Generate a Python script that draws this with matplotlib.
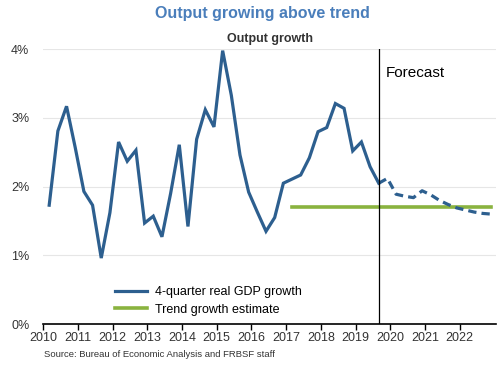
import numpy as np
import matplotlib
matplotlib.use("Agg")
import matplotlib.pyplot as plt

plt.rcParams['font.family'] = ['Liberation Sans', 'DejaVu Sans']

# Quarterly 4-quarter real GDP growth, 2010Q1 - 2019Q3 (actual)
actual_growth = [1.73, 2.81, 3.17, 2.57, 1.93, 1.73, 0.96, 1.62, 2.65, 2.37,
                 2.53, 1.47, 1.57, 1.27, 1.90, 2.61, 1.42, 2.69, 3.12, 2.87,
                 3.98, 3.33, 2.46, 1.92, 1.63, 1.35, 1.55, 2.05, 2.11, 2.17,
                 2.42, 2.80, 2.86, 3.21, 3.14, 2.52, 2.65, 2.29, 2.05]
# Forecast, 2019Q3 - 2022Q4 (starts at the last actual quarter)
forecast_growth = [2.05, 2.12, 1.89, 1.86, 1.84, 1.94, 1.88, 1.80, 1.74,
                   1.69, 1.66, 1.63, 1.61, 1.60]
trend_growth = 1.7
trend_start = 2017.17

first_year = 2010
quarter_offset = 0.17  # where each quarter sits within its year on the chart
year_ticks = list(range(2010, 2023))
y_ticks = [0, 1, 2, 3, 4]

blue = '#2d5f8f'
green = '#8ab33f'

actual_x = first_year + quarter_offset + 0.25 * np.arange(len(actual_growth))
forecast_x = actual_x[-1] + 0.25 * np.arange(len(forecast_growth))

fig = plt.figure(figsize=(5, 3.65), dpi=100)
ax = fig.add_axes([0.0866, 0.1123, 0.9054, 0.7527])

ax.plot(actual_x, actual_growth, color=blue, lw=2.3, solid_joinstyle='miter',
        label='4-quarter real GDP growth', zorder=3)
ax.plot(forecast_x, forecast_growth, color=blue, lw=2.3, linestyle=(0, (2.6, 1.6)),
        zorder=3)
ax.plot([trend_start, forecast_x[-1]], [trend_growth, trend_growth], color=green,
        lw=2.6, label='Trend growth estimate', zorder=2)

ax.axvline(actual_x[-1], color='black', lw=0.9, zorder=4)
ax.text(actual_x[-1] + 0.2, 3.65, 'Forecast', fontsize=11, va='center', ha='left')

ax.set_xlim(2010, 2023.05)
ax.set_ylim(0, 4)
ax.set_xticks(year_ticks)
ax.set_xticklabels([str(y) for y in year_ticks], fontsize=9, color='#333333')
ax.set_yticks(y_ticks)
ax.set_yticklabels([f'{v}%' for v in y_ticks], fontsize=9, color='#333333')
ax.tick_params(axis='y', length=0, pad=10)
ax.tick_params(axis='x', length=4, width=1, color='black', pad=2)
ax.grid(axis='y', color='#e6e6e6', lw=0.8)
ax.set_axisbelow(True)
for side in ['left', 'right', 'top']:
    ax.spines[side].set_visible(False)
ax.spines['bottom'].set_linewidth(1.2)

ax.set_title('Output growth', fontsize=9, fontweight='bold', color='#333333', pad=5)
fig.text(0.525, 0.962, 'Output growing above trend', fontsize=11.5, fontweight='bold',
         color='#4a7ebb', ha='center', va='center')
fig.text(0.087, 0.03, 'Source: Bureau of Economic Analysis and FRBSF staff',
         fontsize=6.8, color='#333333', ha='left', va='center')

ax.legend(loc='lower left', bbox_to_anchor=(0.158, 0.03), frameon=False,
          fontsize=9, handlelength=2.6, handletextpad=0.6, borderpad=0,
          labelspacing=0.45, borderaxespad=0)

fig.savefig('out.png', dpi=100)
